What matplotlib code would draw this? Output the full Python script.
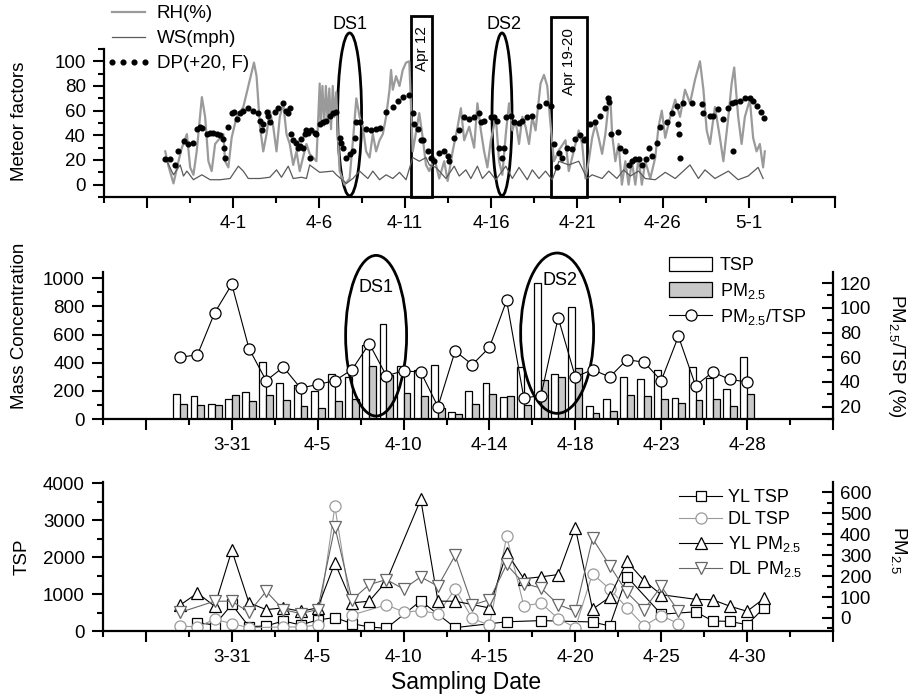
import matplotlib
matplotlib.use("Agg")
import matplotlib.pyplot as plt
import numpy as np
from matplotlib.patches import Ellipse, Rectangle, Patch
from matplotlib.lines import Line2D
from matplotlib.ticker import MultipleLocator, FixedLocator

plt.rcParams['font.family'] = ['Liberation Sans', 'DejaVu Sans']
plt.rcParams['mathtext.fontset'] = 'custom'
plt.rcParams['mathtext.rm'] = 'Liberation Sans'
plt.rcParams['mathtext.it'] = 'Liberation Sans:italic'
plt.rcParams['mathtext.bf'] = 'Liberation Sans:bold'

# ---- panel 1: hourly meteorology (day 0 = Apr 1) ----
rh_day = [-3.94, -3.75, -3.46, -3.17, -2.97, -2.68, -2.49, -2.30, -2.11, -1.81, -1.62, -1.43, -1.24, -1.04,
          -0.75, -0.56, -0.46, -0.27, -0.08, 0.21, 0.60, 0.89, 1.22, 1.37, 1.57, 1.76, 1.95, 2.14, 2.34,
          2.53, 2.72, 2.92, 3.11, 3.30, 3.50, 3.69, 3.88, 4.07, 4.27, 4.46, 4.85, 5.04, 5.1, 5.2, 5.3, 5.4,
          5.5, 5.6, 5.7, 5.8, 5.9, 6.0, 6.1, 6.20, 6.49, 6.78, 7.0, 7.17, 7.36, 7.55, 7.74, 7.94, 8.13,
          8.32, 8.52, 8.71, 8.90, 9.10, 9.19, 9.29, 9.48, 9.68, 9.87, 10.06, 10.25, 10.45, 10.83, 11.03,
          11.22, 11.41, 11.70, 11.99, 12.28, 12.48, 12.77, 13.06, 13.25, 13.44, 13.73, 14.02, 14.21, 14.41,
          14.60, 14.79, 14.99, 15.28, 15.47, 15.66, 15.86, 16.05, 16.24, 16.43, 16.63, 16.82, 17.01, 17.21,
          17.40, 17.59, 17.88, 18.08, 18.27, 18.46, 18.66, 18.95, 19.33, 19.52, 19.81, 20.10, 20.30, 20.49,
          20.68, 20.88, 21.07, 21.26, 21.46, 21.65, 21.84, 21.94, 22.04, 22.23, 22.42, 22.61, 22.81, 23.00,
          23.19, 23.39, 23.58, 23.77, 23.97, 24.26, 24.55, 24.74, 24.93, 25.13, 25.42, 25.71, 25.99, 26.28,
          26.57, 26.86, 27.15, 27.35, 27.54, 27.73, 28.02, 28.31, 28.51, 28.80, 28.99, 29.14, 29.37, 29.57,
          29.76, 30.05, 30.24, 30.44, 30.63, 30.82, 30.92]
rh = [27, 15, 1, 19, 30, 41, 14, 8, 27, 71, 55, 19, 11, 33,
      38, 41, 19, 14, 38, 55, 63, 80, 99, 88, 47, 27, 41, 60, 47,
      27, 55, 66, 41, 33, 16, 27, 11, 22, 33, 25, 19, 82, 50, 80, 48, 80,
      52, 78, 45, 80, 55, 75, 40, 11, 0, 5, 40, 70, 55, 47, 27, 22, 41,
      27, 36, 41, 55, 77, 93, 77, 88, 80, 93, 99, 100, 27, 58, 38,
      16, 11, 22, 5, 19, 3, 27, 47, 62, 36, 47, 30, 66, 44,
      27, 14, 36, 55, 19, 8, 41, 66, 44, 52, 33, 55, 47, 33,
      55, 44, 82, 89, 80, 49, 19, 28, 36, 11, 27, 44, 33, 5,
      19, 38, 49, 38, 25, 41, 66, 71, 41, 19, 33, 0, 19, 0,
      19, 0, 22, 0, 19, 5, 22, 47, 60, 38, 55, 69, 55, 77,
      66, 85, 100, 77, 44, 33, 63, 38, 19, 55, 82, 95, 55, 33,
      55, 69, 38, 27, 33, 14, 27]

ws_day = [-3.94, -3.46, -3.07, -2.88, -2.68, -2.30, -1.81, -1.33, -0.75, -0.17, 0.31, 0.60, 0.89, 1.56,
          2.14, 2.53, 2.82, 3.21, 3.50, 3.98, 4.27, 4.46, 4.65, 5.04, 5.81, 6.01, 6.59, 6.97, 7.36, 7.84,
          8.13, 8.52, 8.90, 9.29, 9.68, 10.06, 10.45, 10.83, 11.22, 11.41, 11.80, 12.38, 12.86, 13.15,
          13.54, 13.83, 14.21, 14.50, 14.89, 15.28, 15.86, 16.24, 16.63, 17.11, 17.40, 17.79, 18.17, 18.56,
          18.95, 19.52, 20.10, 20.59, 20.88, 21.46, 21.84, 22.32, 22.71, 23.10, 23.58, 23.97, 24.55, 25.13,
          25.71, 26.57, 27.06, 27.44, 28.02, 28.80, 29.37, 29.95, 30.53, 30.82]
ws = [22, 8, 16, 7, 11, 4, 8, 4, 4, 5, 15, 11, 5, 5,
      6, 12, 6, 15, 5, 6, 5, 16, 14, 10, 11, 8, 1, 5, 11, 5,
      11, 4, 8, 5, 10, 4, 22, 19, 22, 16, 14, 5, 15, 7,
      12, 5, 15, 5, 11, 4, 15, 5, 14, 4, 12, 5, 11, 4,
      19, 16, 19, 5, 8, 5, 11, 5, 12, 7, 11, 5, 4, 10,
      5, 16, 5, 12, 5, 11, 4, 7, 14, 5]

dp_day = [-3.94, -3.65, -3.36, -3.17, -2.84, -2.59, -2.30, -2.11, -1.91, -1.81, -1.53, -1.33, -1.14, -0.95,
          -0.75, -0.56, -0.50, -0.46, -0.27, -0.08, 0.06, 0.21, 0.41, 0.60, 0.89, 1.18, 1.47, 1.56, 1.66,
          1.76, 1.95, 2.05, 2.14, 2.43, 2.63, 2.92, 3.07, 3.21, 3.30, 3.40, 3.50, 3.69, 3.79, 3.88, 3.98,
          4.07, 4.17, 4.27, 4.37, 4.46, 4.56, 4.75, 4.85, 5.04, 5.23, 5.43, 5.62, 5.81, 6.01, 6.20, 6.30,
          6.39, 6.59, 6.78, 6.97, 7.07, 7.17, 7.36, 7.74, 8.03, 8.32, 8.52, 8.90, 9.29, 9.58, 9.87, 10.25,
          10.45, 10.54, 10.74, 10.93, 11.03, 11.32, 11.51, 11.70, 11.99, 12.28, 12.48, 12.57, 12.86, 13.15,
          13.44, 13.73, 14.02, 14.31, 14.41, 14.60, 14.99, 15.18, 15.37, 15.47, 15.62, 15.76, 15.86, 16.15,
          16.34, 16.63, 16.82, 17.11, 17.40, 17.79, 18.17, 18.46, 18.66, 18.84, 18.95, 19.14, 19.43, 19.72,
          19.91, 20.20, 20.39, 20.49, 20.78, 21.07, 21.36, 21.65, 21.80, 21.88, 22.00, 22.38, 22.52, 22.81,
          23.00, 23.19, 23.39, 23.58, 23.77, 24.00, 24.16, 24.35, 24.64, 24.84, 25.22, 25.51, 25.80, 25.90,
          25.94, 25.97, 26.19, 26.67, 27.25, 27.35, 27.73, 27.93, 28.18, 28.50, 28.79, 28.99, 29.08, 29.18,
          29.47, 29.76, 30.05, 30.24, 30.44, 30.69, 30.90]
dp = [21, 21, 16, 27, 35, 33, 34, 45, 47, 46, 41, 42, 42, 41,
      40, 37, 30, 22, 47, 58, 59, 53, 58, 60, 62, 60, 58, 52, 44,
      49, 59, 56, 51, 59, 62, 66, 60, 58, 62, 41, 36, 34, 30, 31, 37,
      30, 41, 44, 42, 22, 44, 42, 41, 49, 51, 52, 56, 58, 59, 38, 34,
      30, 22, 25, 27, 38, 51, 51, 45, 44, 45, 46, 59, 63, 68, 71, 73,
      58, 49, 45, 36, 36, 27, 22, 19, 26, 27, 23, 19, 38, 44,
      55, 53, 55, 58, 51, 52, 55, 55, 52, 30, 22, 30, 55, 56,
      51, 50, 52, 55, 56, 64, 66, 64, 33, 14, 26, 22, 30, 29,
      37, 40, 36, 37, 49, 51, 56, 62, 70, 67, 41, 43, 30, 27,
      16, 19, 21, 21, 16, 21, 30, 23, 34, 47, 51, 58, 64, 49,
      41, 22, 66, 66, 65, 58, 56, 56, 61, 53, 62, 66, 27, 67,
      68, 70, 70, 68, 64, 59, 54]

# ---- panel 2: daily mass concentration (sample positions) ----
p2_x = list(range(-3, 31))
tsp = [175, 164, 104, 142, 194, 408, 258, 242, 199, 318, 296, 524, 673, 377, 348, 386, 52,
       199, 258, 154, 372, 969, 320, 799, 95, 142, 296, 287, 346, 147, 370, 294, 213, 443]
pm25 = [107, 100, 100, 173, 130, 168, 135, 90, 76, 130, 145, 377, 313, 187, 164, 76, 33,
        109, 178, 166, 100, 277, 296, 360, 45, 59, 173, 161, 145, 116, 133, 145, 90, 178]
ratio = [60, 62, 96, 119, 67, 41, 52, 35, 38, 41, 50, 71, 45, 49, 48, 20, 65,
         54, 68, 106, 27, 29, 92, 44, 50, 44, 58, 56, 41, 77, 37, 48, 42, 40]

# ---- panel 3: two sites (day 0 = Mar 31) ----
yl_tsp_x = [-2, -1, 0, 1, 2, 3, 4, 5, 6, 7, 8, 9, 11, 13, 16, 18, 21, 22, 23, 25, 27, 28, 29, 30, 31]
yl_tsp = [227, 164, 720, 118, 136, 273, 164, 300, 364, 200, 109, 73, 818, 91, 250, 282, 245, 136,
          1473, 455, 520, 273, 260, 170, 636]
dl_tsp_x = [-3, -2, -1, 0, 1, 3, 4, 5, 6, 7, 9, 10, 11, 12, 13, 14, 15, 16, 17, 18, 19, 20, 21, 22,
            23, 24, 25, 26]
dl_tsp = [136, 109, 318, 200, 91, 109, 109, 164, 3380, 436, 709, 518, 545, 473, 1136, 340, 155, 2565,
          682, 755, 336, 91, 1555, 1136, 636, 136, 418, 200]
yl_pm_x = [-3, -2, -1, 0, 1, 2, 3, 4, 5, 6, 7, 8, 9, 11, 12, 13, 15, 16, 17, 18, 19, 20, 21, 22, 23,
           24, 25, 27, 28, 29, 30, 31]
yl_pm = [62, 119, 56, 322, 72, 40, 48, 32, 48, 263, 72, 80, 175, 565, 80, 80, 48, 312, 187, 196, 207,
         430, 42, 99, 270, 178, 111, 89, 87, 56, 32, 94]
dl_pm_x = [-3, -1, 0, 1, 2, 3, 4, 5, 6, 7, 8, 9, 10, 11, 12, 13, 14, 15, 16, 17, 18, 19, 20, 21, 22,
           23, 24, 25, 26]
dl_pm = [27, 80, 80, 27, 127, 40, 21, 40, 434, 87, 159, 183, 138, 196, 151, 298, 62, 87, 255, 164, 143,
         64, 32, 379, 250, 122, 40, 151, 32]

labels1 = ['4-1', '4-6', '4-11', '4-16', '4-21', '4-26', '5-1']
labels2 = ['3-31', '4-5', '4-10', '4-14', '4-18', '4-23', '4-28']
labels3 = ['3-31', '4-5', '4-10', '4-15', '4-20', '4-25', '4-30']

FS = 13.5
W, H = 910, 699
fig = plt.figure(figsize=(W / 100, H / 100), dpi=100)


def px_axes(l, t, r, b):
    return fig.add_axes([l / W, 1 - b / H, (r - l) / W, (b - t) / H])


def style(ax, xlabels):
    ax.set_xlim(-7.5, 35)
    ax.xaxis.set_major_locator(FixedLocator(list(range(-5, 36, 5))))
    ax.xaxis.set_minor_locator(MultipleLocator(2.5))
    ax.set_xticklabels([''] + xlabels + [''])
    for s in ('top', 'right'):
        ax.spines[s].set_visible(False)
    for s in ('left', 'bottom'):
        ax.spines[s].set_linewidth(1.6)
    ax.tick_params(which='major', direction='out', length=8, width=1.5, labelsize=FS, pad=5)
    ax.tick_params(which='minor', direction='out', length=4.5, width=1.5)


def style_right(ax2):
    for s in ('top', 'left', 'bottom'):
        ax2.spines[s].set_visible(False)
    ax2.spines['right'].set_linewidth(1.6)
    ax2.tick_params(which='major', direction='in', length=8, width=1.5, labelsize=FS, pad=5)
    ax2.tick_params(which='minor', direction='in', length=4.5, width=1.5)


# ================= panel 1 =================
ax1 = px_axes(104, 49, 835, 197)
style(ax1, labels1)
ax1.set_ylim(-10, 110)
ax1.yaxis.set_major_locator(MultipleLocator(20))
ax1.yaxis.set_minor_locator(MultipleLocator(10))
ax1.plot(rh_day, rh, color='#9a9a9a', lw=1.6, label='RH(%)')
ax1.plot(ws_day, ws, color='#5a5a5a', lw=0.9, label='WS(mph)')
ax1.plot(dp_day, dp, 'o', color='k', ms=3.4, label='DP(+20, F)')
ax1.legend(loc='upper left', bbox_to_anchor=(106 / W, 1 - 5 / H), bbox_transform=fig.transFigure,
           frameon=False, borderpad=0, borderaxespad=0, handlelength=2.4, handletextpad=0.3,
           labelspacing=0.42, numpoints=4, fontsize=FS)

for cx, w in ((6.78, 1.39), (15.64, 1.16)):
    ax1.add_patch(Ellipse((cx, 57), w, 132, fill=False, lw=2, ec='k', clip_on=False))
ax1.text(6.78, 130, 'DS1', ha='center', va='center', fontsize=13)
ax1.text(15.76, 130, 'DS2', ha='center', va='center', fontsize=13)
ax1.add_patch(Rectangle((10.37, -10), 1.22, 147, fill=False, lw=2, ec='k', clip_on=False))
ax1.add_patch(Rectangle((18.48, -10), 2.09, 146, fill=False, lw=2, ec='k', clip_on=False))
ax1.text(10.98, 110, 'Apr 12', rotation=90, ha='center', va='center', fontsize=11)
ax1.text(19.52, 100, 'Apr 19-20', rotation=90, ha='center', va='center', fontsize=11)

# ================= panel 2 =================
ax2 = px_axes(103, 272, 833, 419)
style(ax2, labels2)
ax2.set_ylim(0, 1045)
ax2.yaxis.set_major_locator(MultipleLocator(200))
ax2.yaxis.set_minor_locator(MultipleLocator(100))
x2 = np.array(p2_x)
ax2.bar(x2 - 0.2, tsp, width=0.4, color='white', edgecolor='k', lw=0.9)
ax2.bar(x2 + 0.2, pm25, width=0.4, color='#c8c8c8', edgecolor='k', lw=0.9)
ax2r = ax2.twinx()
style_right(ax2r)
ax2r.set_ylim(10, 129)
ax2r.yaxis.set_major_locator(FixedLocator([20, 40, 60, 80, 100, 120]))
ax2r.yaxis.set_minor_locator(FixedLocator(list(range(10, 130, 10))))
ax2r.plot(p2_x, ratio, '-o', color='k', lw=0.8, ms=8, mfc='white', mec='k', mew=0.9)

ax2.add_patch(Ellipse((8.4, 592), 3.55, 1142, fill=False, lw=2, ec='k', clip_on=False))
ax2.add_patch(Ellipse((18.94, 610), 4.25, 1140, fill=False, lw=2, ec='k', clip_on=False))
ax2.text(8.37, 934, 'DS1', ha='center', va='center', fontsize=13)
ax2.text(19.1, 986, 'DS2', ha='center', va='center', fontsize=13)

h2 = [Patch(facecolor='white', edgecolor='k', lw=0.9),
      Patch(facecolor='#c8c8c8', edgecolor='k', lw=0.9),
      Line2D([], [], color='k', lw=0.8, marker='o', ms=8, mfc='white', mec='k', mew=0.9)]
ax2r.legend(h2, ['TSP', 'PM$_{2.5}$', 'PM$_{2.5}$/TSP'], loc='upper left',
            bbox_to_anchor=(669 / W, 1 - 257 / H), bbox_transform=fig.transFigure,
            frameon=False, borderpad=0, borderaxespad=0, handlelength=2.4, handleheight=0.85,
            handletextpad=0.4, labelspacing=0.35, numpoints=1, fontsize=13)

# ================= panel 3 =================
ax3 = px_axes(103, 482, 833, 631)
style(ax3, labels3)
ax3.set_ylim(0, 4040)
ax3.yaxis.set_major_locator(MultipleLocator(1000))
ax3.yaxis.set_minor_locator(MultipleLocator(500))
l1, = ax3.plot(yl_tsp_x, yl_tsp, '-s', color='k', lw=0.8, ms=7, mfc='white', mec='k', mew=0.9)
l2, = ax3.plot(dl_tsp_x, dl_tsp, '-o', color='#9a9a9a', lw=0.8, ms=8, mfc='white', mec='#9a9a9a', mew=0.9)
ax3r = ax3.twinx()
style_right(ax3r)
ax3r.set_ylim(-62, 648)
ax3r.yaxis.set_major_locator(FixedLocator([0, 100, 200, 300, 400, 500, 600]))
ax3r.yaxis.set_minor_locator(FixedLocator(list(range(-50, 650, 50))))
l3, = ax3r.plot(yl_pm_x, yl_pm, '-^', color='k', lw=0.8, ms=9, mfc='white', mec='k', mew=0.9)
l4, = ax3r.plot(dl_pm_x, dl_pm, '-v', color='#666666', lw=0.8, ms=9, mfc='white', mec='#666666', mew=0.9)
ax3r.legend([l1, l2, l3, l4], ['YL TSP', 'DL TSP', 'YL PM$_{2.5}$', 'DL PM$_{2.5}$'], loc='upper left',
            bbox_to_anchor=(679 / W, 1 - 489 / H), bbox_transform=fig.transFigure,
            frameon=False, borderpad=0, borderaxespad=0, handlelength=2.4,
            handletextpad=0.3, labelspacing=0.3, numpoints=1, fontsize=13)

# ---- axis titles ----
fig.text(20 / W, 1 - 121 / H, 'Meteor factors', rotation=90, ha='center', va='center', fontsize=FS)
fig.text(20 / W, 1 - 326 / H, 'Mass Concentration', rotation=90, ha='center', va='center', fontsize=FS)
fig.text(22 / W, 1 - 557 / H, 'TSP', rotation=90, ha='center', va='center', fontsize=FS)
fig.text(897 / W, 1 - 356 / H, 'PM$_{2.5}$/TSP (%)', rotation=270, ha='center', va='center', fontsize=FS)
fig.text(899 / W, 1 - 550 / H, 'PM$_{2.5}$', rotation=270, ha='center', va='center', fontsize=FS)
fig.text(466 / W, 1 - 683 / H, 'Sampling Date', ha='center', va='center', fontsize=16.5)

fig.savefig('out.png', dpi=100)
